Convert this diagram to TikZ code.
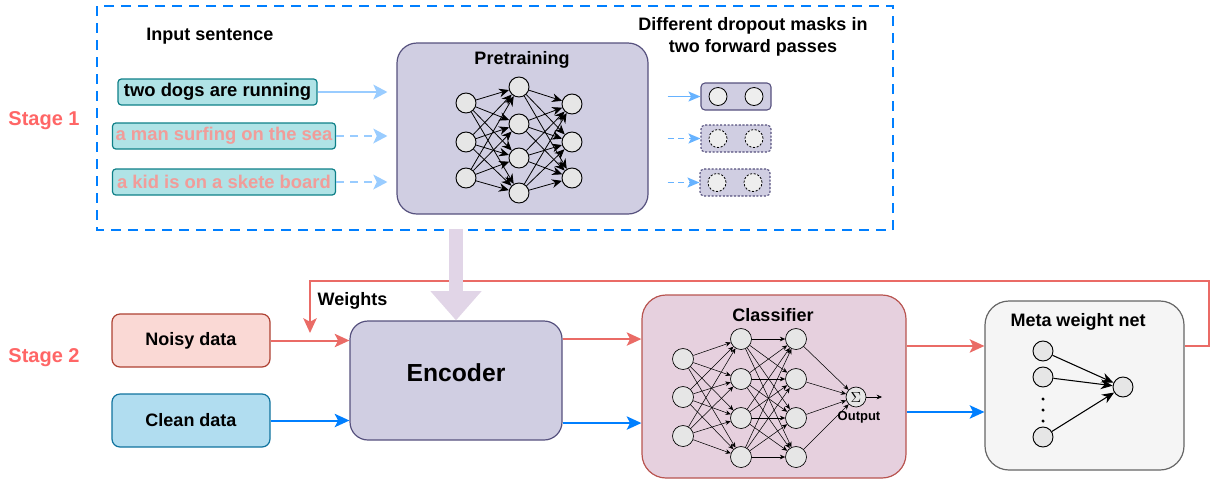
\documentclass[tikz,border=0pt]{standalone}
\usepackage{fontspec}
\setmainfont{Liberation Sans}
\usetikzlibrary{shapes,arrows.meta,positioning}

\definecolor{stagered}{HTML}{FF6666}
\definecolor{linered}{HTML}{EA6B66}
\definecolor{lineblue}{HTML}{007FFF}
\definecolor{skyblue}{HTML}{99CCFF}
\definecolor{maskblue}{HTML}{66B2FF}
\definecolor{sentfill}{HTML}{B0E3E6}
\definecolor{sentdraw}{HTML}{0E8088}
\definecolor{sentpink}{HTML}{F19C99}
\definecolor{purplefill}{HTML}{D0CEE2}
\definecolor{purpledraw}{HTML}{56517E}
\definecolor{purplearrow}{HTML}{E1D5E7}
\definecolor{noisyfill}{HTML}{FAD9D5}
\definecolor{noisydraw}{HTML}{AE4132}
\definecolor{cleanfill}{HTML}{B1DDF0}
\definecolor{cleandraw}{HTML}{10739E}
\definecolor{clsfill}{HTML}{E6D0DE}
\definecolor{clsdraw}{HTML}{B85450}
\definecolor{metafill}{HTML}{F5F5F5}
\definecolor{metadraw}{HTML}{666666}
\definecolor{neuronfill}{HTML}{E6E6E6}
\definecolor{dropfill}{HTML}{EEEEEE}

\begin{document}
\begin{tikzpicture}[x=0.75pt, y=-0.75pt, >=Stealth,
    every node/.style={font=\fontsize{13.5}{16}\selectfont\bfseries},
    sentence/.style={draw=sentdraw, fill=sentfill, line width=0.9pt, rounded corners=2.5pt,
      inner sep=0pt, minimum height=19.5pt, font=\fontsize{13.8}{16}\selectfont\bfseries},
    block/.style={draw, line width=0.9pt, inner sep=0pt},
    neuron/.style={circle, draw, fill=neuronfill, line width=0.7pt, minimum size=15pt, inner sep=0pt},
    cneuron/.style={neuron, line width=0.5pt, minimum size=15.75pt},
    maskbox/.style={draw=purpledraw, fill=purplefill, line width=0.8pt, rounded corners=3pt,
      minimum width=52.5pt, minimum height=20.25pt},
    dropneuron/.style={circle, draw, fill=dropfill, line width=0.6pt, minimum size=13.5pt, inner sep=0pt},
    dropdash/.style={dash pattern=on 1.6pt off 1.2pt},
    redline/.style={draw=linered, line width=1.5pt, -{Stealth[length=11pt, width=10pt, inset=2.5pt]}},
    blueline/.style={draw=lineblue, line width=1.5pt, -{Stealth[length=11pt, width=10pt, inset=2.5pt]}},
    skyline/.style={draw=skyblue, line width=1.5pt, -{Stealth[length=10.5pt, width=11pt, inset=2.5pt]}, shorten >=6.75pt},
    maskline/.style={draw=maskblue, line width=1.2pt, -{Stealth[length=9pt, width=7.5pt, inset=2pt]}, shorten <=14.25pt},
    pnet/.style={line width=0.6pt, -{Stealth[length=7.5pt, width=6.5pt]}},
    cnet/.style={line width=0.4pt, -{Stealth[length=4pt, width=3.5pt]}},
    mnet/.style={line width=0.8pt, -{Stealth[length=9pt, width=7.5pt]}},
    stage/.style={text=stagered, font=\fontsize{15}{18}\selectfont\bfseries}
  ]
  \useasboundingbox (0,0) rectangle (1210,480);

  % Estagio 1
  \draw[lineblue, line width=2.2pt, dash pattern=on 7.5pt off 5.25pt] (97,6) rectangle (893,230);
  \node[stage] (s1) at (44,121) {Stage 1};
  \node (intit) at (210,36) {Input sentence};
  \node[align=center] (masktit) at (753,37) {Different dropout masks in\\two forward passes};

  % Frases de entrada
  \node[sentence, minimum width=149.25pt] (in1) at (217.5,92) {two dogs are running};
  \node[sentence, minimum width=167.25pt, text=sentpink] (in2) at (224,136) {a man surfing on the sea};
  \node[sentence, minimum width=167.25pt, text=sentpink] (in3) at (224,182) {a kid is on a skete board};

  % Pretreino
  \node[block, draw=purpledraw, fill=purplefill, rounded corners=15pt,
    minimum width=188.25pt, minimum height=128.25pt] (pre) at (522.5,128.5) {};
  \node (pretit) at (522,60) {Pretraining};

  \draw[skyline] (in1.east) -- (in1.east -| pre.west);
  \draw[skyline, dash pattern=on 6pt off 4.5pt] (in2.east) -- (in2.east -| pre.west);
  \draw[skyline, dash pattern=on 6pt off 4.5pt] (in3.east) -- (in3.east -| pre.west);

  % Rede do pretreino
  \foreach \i/\y in {1/103,2/142,3/178} \node[neuron] (pa\i) at (466,\y) {};
  \foreach \i/\y in {1/87,2/124,3/158,4/193} \node[neuron] (pb\i) at (519,\y) {};
  \foreach \i/\y in {1/104,2/142,3/178} \node[neuron] (pc\i) at (572,\y) {};
  \foreach \i in {1,2,3} \foreach \j in {1,...,4} \draw[pnet] (pa\i) -- (pb\j);
  \foreach \i in {1,...,4} \foreach \j in {1,2,3} \draw[pnet] (pb\i) -- (pc\j);

  % Mascaras de dropout
  \node[maskbox] (d1) at (736,96.5) {};
  \node[maskbox, dropdash] (d2) at (736,138.5) {};
  \node[maskbox, dropdash] (d3) at (735,182.5) {};
  \foreach \k/\s in {1/solid,2/dropdash,3/dropdash} {
    \node[dropneuron, \s] (d\k a) at ([xshift=-13.5pt]d\k.center) {};
    \node[dropneuron, \s] (d\k b) at ([xshift=13.5pt]d\k.center) {};
  }
  \draw[maskline] (pre.east |- d1.west) -- (d1.west);
  \draw[maskline, dash pattern=on 4.5pt off 3.5pt] (pre.east |- d2.west) -- (d2.west);
  \draw[maskline, dash pattern=on 4.5pt off 3.5pt] (pre.east |- d3.west) -- (d3.west);

  % Estagio 2
  \node[stage] (s2) at (44,358) {Stage 2};
  \node[block, draw=noisydraw, fill=noisyfill, rounded corners=6pt,
    minimum width=118.5pt, minimum height=39.75pt] (noisy) at (191,340.5) {Noisy data};
  \node[block, draw=cleandraw, fill=cleanfill, rounded corners=6pt,
    minimum width=118.5pt, minimum height=39.75pt] (clean) at (191,420.5) {Clean data};
  \node[block, draw=purpledraw, fill=purplefill, rounded corners=13.5pt,
    minimum width=159pt, minimum height=89.25pt] (enc) at (456,380.5) {};
  \node[font=\fontsize{18.5}{22}\selectfont\bfseries] (enctxt) at (456,373) {Encoder};
  \node[block, draw=clsdraw, fill=clsfill, rounded corners=18pt,
    minimum width=198pt, minimum height=137.25pt] (cls) at (774,386.5) {};
  \node (clstit) at (773,315) {Classifier};
  \node[block, draw=metadraw, fill=metafill, rounded corners=18pt,
    minimum width=149.25pt, minimum height=126.75pt] (meta) at (1084.5,385.5) {};
  \node (metatit) at (1078,322) {Meta weight net};

  % Setas entre blocos
  \draw[redline] (noisy.east) -- (noisy.east -| enc.west);
  \draw[blueline] (clean.east) -- (clean.east -| enc.west);
  \draw[redline] ([yshift=31.1pt]enc.east) -- ([yshift=31.1pt]enc.east -| cls.west);
  \draw[blueline] ([yshift=-31.9pt]enc.east) -- ([yshift=-31.9pt]enc.east -| cls.west);
  \draw[redline] ([yshift=30.4pt]cls.east) -- ([yshift=30.4pt]cls.east -| meta.west);
  \draw[blueline] ([yshift=-19.1pt]cls.east) -- ([yshift=-19.1pt]cls.east -| meta.west);

  % Pesos de volta
  \coordinate (canto) at (1209,281);
  \coordinate (wgt) at (310,333);
  \draw[redline] ([yshift=29.6pt]meta.east) -| (canto) -| (wgt);
  \node[anchor=west] (wlab) at (313,301) {Weights};

  % Seta do pretreino para o encoder
  \draw[purplearrow, line width=10.5pt, -{Triangle[length=22pt, width=37pt]}, shorten <=10.5pt]
    (enc.north |- pre.south) -- (enc.north);

  % Rede do classificador
  \foreach \i/\y in {1/359,2/397,3/436} \node[cneuron] (ca\i) at (683,\y) {};
  \foreach \i/\y in {1/339,2/379,3/418,4/457} \node[cneuron] (cb\i) at (741,\y) {};
  \foreach \i/\y in {1/339,2/379,3/418,4/457} \node[cneuron] (cc\i) at (796,\y) {};
  \node[cneuron, minimum size=15pt, font=\fontsize{11}{13}\selectfont] (sig) at (856,397) {$\Sigma$};
  \foreach \i in {1,2,3} \foreach \j in {1,...,4} \draw[cnet] (ca\i) -- (cb\j);
  \foreach \i in {1,...,4} \foreach \j in {1,...,4} \draw[cnet] (cb\i) -- (cc\j);
  \foreach \i in {1,...,4} \draw[cnet] (cc\i) -- (sig);
  \coordinate (outp) at (882,397);
  \draw[cnet] (sig) -- (outp);
  \node[font=\fontsize{9.75}{12}\selectfont\bfseries] (outlab) at (859,417) {Output};

  % Rede de pesos
  \node[neuron] (m1) at (1043,351) {};
  \node[neuron] (m2) at (1043,377) {};
  \node[neuron] (m3) at (1043,437) {};
  \node[neuron] (mo) at (1123,387) {};
  \foreach \i in {1,2,3} \draw[mnet] (m\i) -- (mo);
  \foreach \y in {399,410,421} \fill (1043,\y) circle (1.3pt);
\end{tikzpicture}
\end{document}
